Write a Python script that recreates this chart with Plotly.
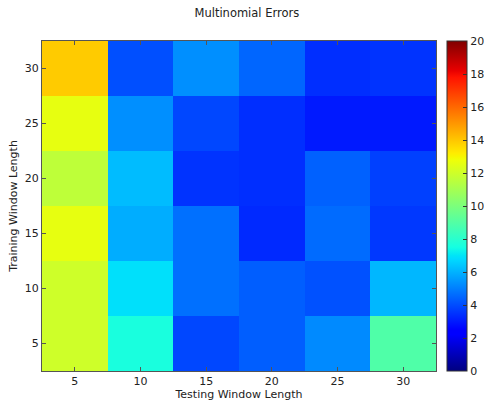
import plotly.graph_objects as go
import numpy as np

x_labels = [5, 10, 15, 20, 25, 30]
y_labels = [5, 10, 15, 20, 25, 30]
# rows: y = 5, 10, ..., 30 ; columns: x = 5, 10, ..., 30
errors = [
    [12.0, 7.6, 3.9, 4.35, 5.2, 8.9],
    [12.0, 6.9, 4.7, 4.35, 4.1, 6.1],
    [12.6, 5.9, 4.7, 3.3, 4.6, 3.6],
    [11.6, 6.2, 3.5, 3.4, 4.4, 3.75],
    [12.6, 5.3, 3.9, 3.4, 3.0, 3.0],
    [13.9, 4.05, 5.3, 4.5, 3.4, 3.5],
]

# matplotlib "jet" segment data
_r = [(0, 0), (0.35, 0), (0.66, 1), (0.89, 1), (1, 0.5)]
_g = [(0, 0), (0.125, 0), (0.375, 1), (0.64, 1), (0.91, 0), (1, 0)]
_b = [(0, 0.5), (0.11, 1), (0.34, 1), (0.65, 0), (1, 0)]
stops = sorted(set([p for p, _ in _r + _g + _b]))

def interp(seg, t):
    xs = [p for p, _ in seg]
    ys = [v for _, v in seg]
    return float(np.interp(t, xs, ys))

jet = [[t, "rgb(%d,%d,%d)" % (round(255 * interp(_r, t)), round(255 * interp(_g, t)), round(255 * interp(_b, t)))] for t in stops]

fig = go.Figure(go.Heatmap(
    x=x_labels, y=y_labels, z=errors,
    colorscale=jet, zmin=0, zmax=20,
    colorbar=dict(
        x=1.028, xanchor="left", xref="paper",
        y=0.5, yanchor="middle", len=1, lenmode="fraction",
        thickness=20, thicknessmode="pixels",
        outlinecolor="#333", outlinewidth=1,
        tickvals=list(range(0, 21, 2)),
        ticks="inside", ticklen=4, tickcolor="#333",
        tickfont=dict(family="DejaVu Sans", size=11, color="#222"),
        xpad=0, ypad=0,
    ),
))

axis_common = dict(
    showline=True, linecolor="#555", linewidth=1, mirror="ticks",
    ticks="inside", ticklen=4, tickcolor="#555",
    showgrid=False, zeroline=False,
    tickfont=dict(family="DejaVu Sans", size=11, color="#222"),
)

fig.update_layout(
    width=484, height=403,
    margin=dict(l=42, r=48, t=41, b=32, autoexpand=False),
    paper_bgcolor="white", plot_bgcolor="white",
    title=dict(text="Multinomial Errors", x=0.52, xref="paper", xanchor="center",
               y=0.968, yanchor="middle",
               font=dict(family="DejaVu Sans", size=11.5, color="#222")),
    xaxis=dict(title=dict(text="Testing Window Length", standoff=2,
                          font=dict(family="DejaVu Sans", size=11, color="#222")),
               tickvals=x_labels, range=[2.5, 32.5], **axis_common),
    yaxis=dict(title=dict(text="Training Window Length", standoff=4,
                          font=dict(family="DejaVu Sans", size=11, color="#222")),
               tickvals=y_labels, range=[2.5, 32.5], **axis_common),
)

fig.write_html("out.html", config={"displayModeBar": False},
               post_script="document.body.style.margin='0';")
